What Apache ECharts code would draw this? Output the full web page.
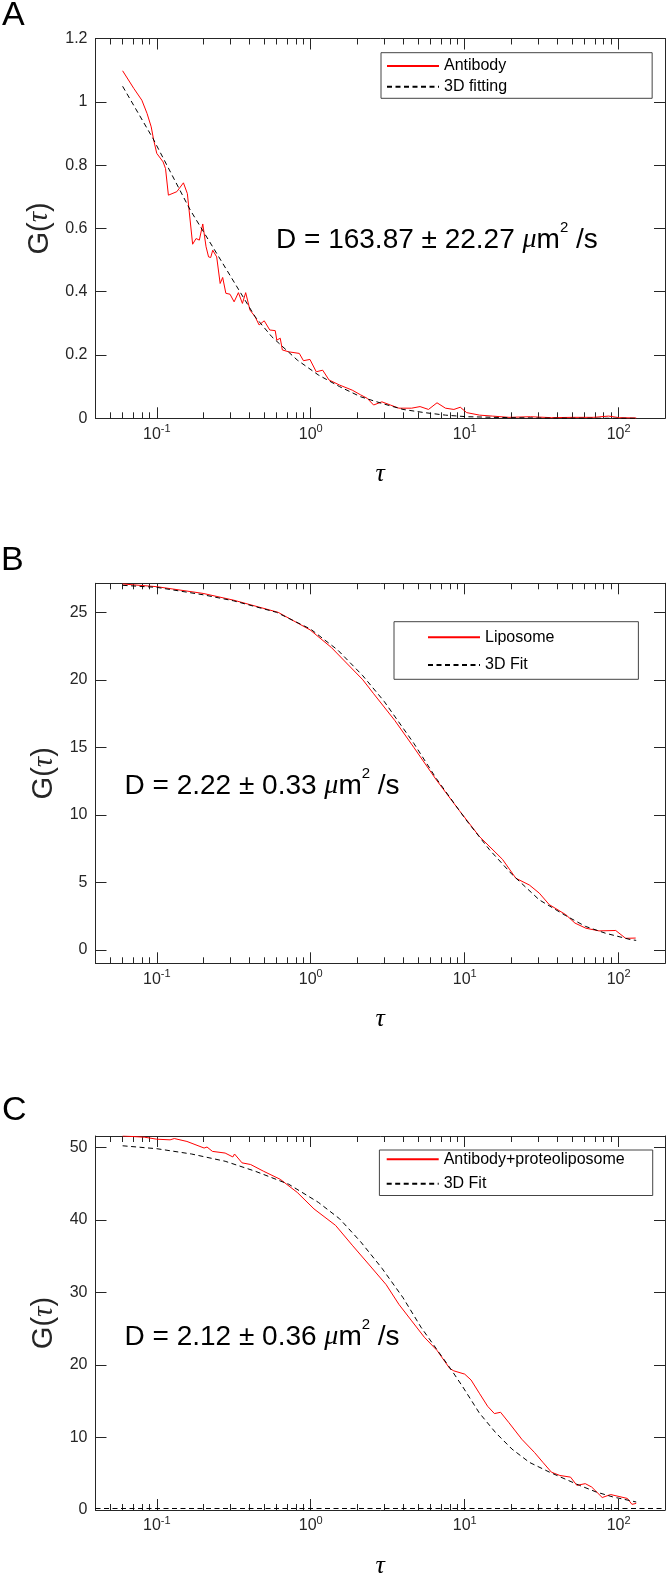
<!DOCTYPE html>
<html><head><meta charset="utf-8">
<script src="https://cdn.jsdelivr.net/npm/echarts@6/dist/echarts.min.js"></script>
<style>html,body{margin:0;padding:0;background:#fff}#c{width:666px;height:1580px}</style>
</head><body><div id="c"></div>
<script>
// ---------- axis ticks ----------
const xRange = [0.04, 200];
const xMajorTicks = [0.1, 1, 10, 100];
const xMinorTicks = [0.05,0.06,0.07,0.08,0.09,0.2,0.3,0.4,0.5,0.6,0.7,0.8,0.9,2,3,4,5,6,7,8,9,20,30,40,50,60,70,80,90];
const yRangeA = [0, 1.2],  yTicksA = [0, 0.2, 0.4, 0.6, 0.8, 1, 1.2];
const yRangeB = [-1, 27.15], yTicksB = [0, 5, 10, 15, 20, 25];
const yRangeC = [0, 51.55], yTicksC = [0, 10, 20, 30, 40, 50];

// ---------- Panel A: Antibody ----------
const antibodyTau = [0.060,0.071,0.080,0.0865,0.092,0.0955,0.100,0.110,0.114,0.119,0.135,0.149,0.158,0.171,0.180,0.189,0.199,0.209,0.217,0.224,0.231,0.245,0.258,0.268,0.281,0.299,0.318,0.339,0.360,0.378,0.403,0.435,0.462,0.499,0.542,0.588,0.602,0.634,0.654,0.720,0.843,0.897,0.988,1.086,1.196,1.315,1.54,1.86,2.11,2.33,2.56,2.90,3.29,3.74,4.52,5.13,5.82,6.61,7.50,8.51,9.36,10.3,12.5,15.1,19.4,26.7,36.6,50.2,68.9,86,101,130];
const antibodyG   = [1.098,1.042,1.005,0.963,0.921,0.879,0.837,0.810,0.789,0.705,0.716,0.744,0.710,0.550,0.568,0.563,0.614,0.542,0.510,0.508,0.531,0.510,0.426,0.445,0.395,0.392,0.368,0.397,0.363,0.397,0.342,0.321,0.295,0.308,0.279,0.277,0.247,0.253,0.216,0.210,0.205,0.182,0.186,0.147,0.152,0.121,0.105,0.089,0.074,0.063,0.042,0.052,0.042,0.032,0.032,0.037,0.028,0.049,0.032,0.028,0.035,0.018,0.010,0.007,0.003,0.005,0.002,0.003,0.003,0.007,0.002,0.001];
const antibodyFitTau = [0.06,0.0945,0.165,0.245,0.435,0.558,0.818,1.12,1.54,2.11,2.90,3.98,5.47,7.5,10.3,19.4,36.6,130];
const antibodyFitG   = [1.049,0.884,0.658,0.521,0.321,0.258,0.184,0.137,0.100,0.068,0.047,0.028,0.018,0.010,0.005,0.002,0.0005,0];

// ---------- Panel B: Liposome ----------
const liposomeTau = [0.06,0.1,0.2,0.316,0.614,0.99,1.36,2.18,2.55,3.51,4.67,6.53,9.25,12.45,17.6,21.5,26.3,30.5,35.4,45.4,52,61.2,74.6,95.7,111,129];
const liposomeG   = [27.1,26.9,26.4,25.9,25.0,23.7,22.4,20.0,19.0,17.0,15.0,12.6,10.3,8.4,6.7,5.3,4.8,4.2,3.35,2.6,1.98,1.6,1.4,1.43,0.85,0.87];
const liposomeFitTau = [0.06,0.1,0.2,0.316,0.6,1.0,1.5,2.18,3.0,4.67,6.53,10.2,14.5,20.4,30.5,45,61,82,121,130];
const liposomeFitG   = [27.0,26.85,26.3,25.85,25.0,23.75,22.2,20.3,18.4,15.3,12.7,9.63,7.41,5.56,3.70,2.55,1.73,1.23,0.74,0.70];

// ---------- Panel C: Antibody+proteoliposome ----------
const proteoTau = [0.06,0.0835,0.1,0.122,0.130,0.157,0.203,0.212,0.230,0.278,0.312,0.32,0.358,0.407,0.492,0.634,0.818,1.05,1.45,1.86,2.40,3.09,3.74,4.52,5.47,6.61,8.0,8.5,10.0,11.0,12.45,14.1,15.6,17.1,19.4,23.5,28.4,32.2,36.6,41.5,48.7,53.5,60.7,66.8,78.2,88.7,114,122,130];
const proteoG   = [51.56,51.38,51.11,51.02,51.2,50.8,49.89,50.03,49.43,49.2,48.66,49.07,47.85,47.62,46.71,45.58,43.77,41.50,39.23,36.50,33.78,31.06,28.34,26.08,23.81,22.0,19.5,19.18,18.73,17.92,16.1,14.29,13.29,13.47,12.02,9.75,7.93,6.57,5.21,4.76,4.53,3.40,3.63,3.17,1.72,2.13,1.59,0.78,0.91];
const proteoFitTau = [0.06,0.1,0.168,0.278,0.434,0.72,1.12,1.54,2.11,2.90,3.98,5.2,8.2,9.7,12.45,15.9,20.3,26.3,35.6,55.6,71.3,91.4,123,130];
const proteoFitG   = [50.2,49.8,49.07,48.07,46.71,44.9,42.41,40.14,36.97,33.33,29.25,25.2,19.3,17.0,13.37,10.65,8.39,6.57,5.21,3.40,2.49,1.81,1.22,1.1];
const baselineC = 0.2;

// ---------- text ----------
const panelLetters = ['A','B','C'];
const redNames = ['Antibody','Liposome','Antibody+proteoliposome'];
const fitNames = ['3D fitting','3D Fit','3D Fit'];
const diffusionText = ['D = 163.87 ± 22.27 ','D = 2.22 ± 0.33 ','D = 2.12 ± 0.36 '];

const AX = '#262626';
const SANS = 'Liberation Sans, Arial, Helvetica, sans-serif';
const SERIF = 'Liberation Serif, DejaVu Serif, serif';
const zip = (a, b) => a.map((v, i) => [v, b[i]]);

const panels = [
  {grid:{top:38.5,height:379.8}, yr:yRangeA, yt:yTicksA,
   red:zip(antibodyTau,antibodyG), fit:zip(antibodyFitTau,antibodyFitG),
   legend:{left:381, top:52.7, padding:[5.3,145,3.6,5], itemGap:4.7},
   note:{x:276, y:240}, letter:{x:2, y:16}},
  {grid:{top:583.3,height:380}, yr:yRangeB, yt:yTicksB,
   red:zip(liposomeTau,liposomeG), fit:zip(liposomeFitTau,liposomeFitG),
   legend:{left:394, top:621.7, padding:[7.6,84,6.3,33], itemGap:11.7},
   note:{x:124.5, y:786}, letter:{x:1, y:561}},
  {grid:{top:1136,height:379}, yr:yRangeC, yt:yTicksC,
   red:zip(proteoTau,proteoG), fit:zip(proteoFitTau,proteoFitG),
   legend:{left:379.4, top:1150, padding:[1.3,28,3.8,6.3], itemGap:8.4},
   note:{x:124.5, y:1337}, letter:{x:2, y:1111}, baseline:true}
];

const option = {animation:false, backgroundColor:'#fff', textStyle:{fontFamily:SANS},
  grid:[], xAxis:[], yAxis:[], series:[], legend:[], graphic:[]};

panels.forEach((p, i) => {
  option.grid.push({left:95.5, width:569.5, top:p.grid.top, height:p.grid.height});
  const xBase = () => ({type:'log', logBase:10, gridIndex:i, min:xRange[0], max:xRange[1],
    splitLine:{show:false}, minorTick:{show:false}});
  const xi = option.xAxis.length;
  option.xAxis.push(Object.assign(xBase(), {position:'bottom',
    axisLine:{show:true, onZero:false, lineStyle:{color:AX}},
    axisTick:{show:true, inside:true, length:11, customValues:xMajorTicks, lineStyle:{color:AX}},
    axisLabel:{show:true, customValues:xMajorTicks, margin:5, color:AX,
      formatter: v => '{b|10}{s|' + Math.round(Math.log10(v)) + '}',
      rich:{b:{fontSize:16, lineHeight:22, color:AX, fontFamily:SANS},
            s:{fontSize:11, lineHeight:12, verticalAlign:'top', color:AX, fontFamily:SANS}}},
    name:'τ', nameLocation:'middle', nameGap:43,
    nameTextStyle:{fontSize:26, fontStyle:'italic', fontFamily:SERIF, color:'#000'}}));
  option.xAxis.push(Object.assign(xBase(), {position:'bottom',
    axisLine:{show:false, onZero:false},
    axisTick:{show:true, inside:true, length:6, customValues:xMinorTicks, lineStyle:{color:AX}},
    axisLabel:{show:false}}));
  option.xAxis.push(Object.assign(xBase(), {position:'top',
    axisLine:{show:true, onZero:false, lineStyle:{color:AX}},
    axisTick:{show:true, inside:true, length:11, customValues:xMajorTicks, lineStyle:{color:AX}},
    axisLabel:{show:false}}));
  option.xAxis.push(Object.assign(xBase(), {position:'top',
    axisLine:{show:false, onZero:false},
    axisTick:{show:true, inside:true, length:6, customValues:xMinorTicks, lineStyle:{color:AX}},
    axisLabel:{show:false}}));

  const yi = option.yAxis.length;
  const yBase = () => ({type:'value', gridIndex:i, min:p.yr[0], max:p.yr[1], splitLine:{show:false}});
  option.yAxis.push(Object.assign(yBase(), {position:'left',
    axisLine:{show:true, onZero:false, lineStyle:{color:AX}},
    axisTick:{show:true, inside:true, length:11, customValues:p.yt, lineStyle:{color:AX}},
    axisLabel:{show:true, customValues:p.yt, fontSize:16, color:AX},
    name:'{n|G(}{t|τ}{n|)}', nameLocation:'middle', nameRotate:90, nameGap:34,
    nameTextStyle:{rich:{n:{fontSize:29, fontFamily:SANS, color:AX},
                         t:{fontSize:29, fontFamily:SERIF, fontStyle:'italic', color:AX}}}}));
  option.yAxis.push(Object.assign(yBase(), {position:'right',
    axisLine:{show:true, onZero:false, lineStyle:{color:AX}},
    axisTick:{show:true, inside:true, length:11, customValues:p.yt, lineStyle:{color:AX}},
    axisLabel:{show:false}}));

  const red = {type:'line', name:redNames[i], xAxisIndex:xi, yAxisIndex:yi, data:p.red,
    symbol:'none', lineStyle:{color:'#ff0000', width:1}, itemStyle:{color:'#ff0000'}};
  const fit = {type:'line', name:fitNames[i], xAxisIndex:xi, yAxisIndex:yi, data:p.fit,
    symbol:'none', lineStyle:{color:'#000', width:1, type:[5,3.5]}, itemStyle:{color:'#000'}};
  if (p.baseline) {
    fit.markLine = {symbol:'none', silent:true, label:{show:false},
      lineStyle:{color:'#000', width:1, type:[5,3.5]}, data:[{yAxis:baselineC}]};
  }
  option.series.push(red, fit);

  option.legend.push({orient:'vertical', left:p.legend.left, top:p.legend.top,
    padding:p.legend.padding, itemGap:p.legend.itemGap, itemWidth:52, itemHeight:14,
    data:[redNames[i], fitNames[i]], itemStyle:{opacity:0},
    borderColor:'#444', borderWidth:1, backgroundColor:'#fff',
    textStyle:{fontSize:16, lineHeight:16, color:'#000'}});

  option.graphic.push({type:'text', x:p.letter.x, y:p.letter.y,
    style:{text:panelLetters[i], fontSize:34, fontFamily:SANS, fill:'#000', verticalAlign:'middle'}});
  option.graphic.push({type:'text', x:p.note.x, y:p.note.y,
    style:{text:'{n|' + diffusionText[i] + '}{i|μ}{n|m}{s|2}{n| /s}', verticalAlign:'middle',
      rich:{n:{fontSize:28, lineHeight:40, fontFamily:SANS, fill:'#000'},
            i:{fontSize:28, lineHeight:40, fontFamily:SERIF, fontStyle:'italic', fill:'#000'},
            s:{fontSize:15, lineHeight:15, verticalAlign:'top', fontFamily:SANS, fill:'#000'}}}});
});

const chart = echarts.init(document.getElementById('c'));
chart.setOption(option);
</script>
</body></html>
